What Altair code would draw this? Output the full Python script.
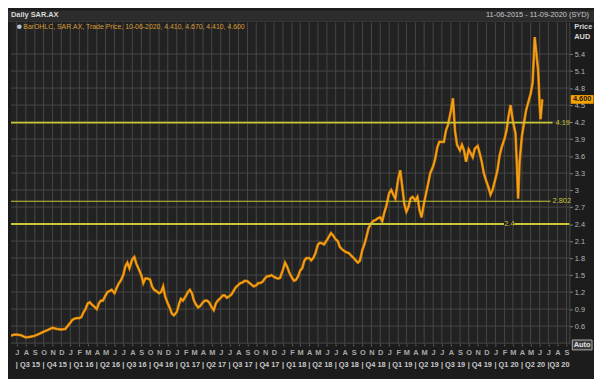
import altair as alt
import pandas as pd

# ---- data (approximate closes) ----
dates_2015 = ["2015-06-11", "2015-06-22", "2015-07-01", "2015-07-15", "2015-08-01",
              "2015-08-15", "2015-09-01", "2015-09-15", "2015-10-01", "2015-10-15",
              "2015-11-01", "2015-11-15", "2015-12-01", "2015-12-15"]
close_2015 = [0.43, 0.45, 0.45, 0.44, 0.40, 0.41, 0.43, 0.46, 0.50, 0.53, 0.57, 0.55,
              0.54, 0.55]

# 2016-2019: readings on the 1st, 8th, 15th and 22nd of each month
sample_days = [1, 8, 15, 22]
close_2016 = [0.66, 0.71, 0.73, 0.74, 0.74, 0.76, 0.84, 0.90, 1.00, 1.02, 0.98, 0.95,
              0.90, 1.00, 1.05, 1.05, 1.14, 1.20, 1.22, 1.24, 1.18, 1.27, 1.35, 1.40,
              1.50, 1.65, 1.72, 1.62, 1.78, 1.82, 1.70, 1.62, 1.50, 1.36, 1.44, 1.44,
              1.42, 1.30, 1.24, 1.22, 1.18, 1.20, 1.30, 1.12, 1.00, 0.92, 0.82, 0.79]
close_2017 = [0.85, 0.98, 1.08, 1.05, 1.13, 1.20, 1.24, 1.18, 1.05, 0.98, 0.93, 0.95,
              1.02, 1.05, 1.05, 1.02, 0.93, 0.88, 1.00, 1.05, 1.10, 1.14, 1.14, 1.10,
              1.13, 1.16, 1.22, 1.28, 1.33, 1.36, 1.37, 1.40, 1.39, 1.36, 1.33, 1.30,
              1.32, 1.36, 1.36, 1.38, 1.45, 1.48, 1.48, 1.50, 1.47, 1.45, 1.44, 1.45]
close_2018 = [1.60, 1.72, 1.65, 1.55, 1.45, 1.40, 1.42, 1.48, 1.58, 1.62, 1.75, 1.80,
              1.80, 1.76, 1.80, 1.88, 2.04, 2.07, 2.06, 2.04, 2.12, 2.18, 2.24, 2.20,
              2.13, 2.10, 2.00, 1.96, 1.92, 1.90, 1.89, 1.85, 1.80, 1.76, 1.72, 1.75,
              1.95, 2.05, 2.18, 2.33, 2.42, 2.46, 2.47, 2.50, 2.52, 2.45, 2.60, 2.72]
close_2019 = [2.95, 3.00, 2.92, 2.85, 3.20, 3.35, 3.05, 2.75, 2.62, 2.70, 2.85, 2.88,
              2.82, 2.88, 2.65, 2.52, 2.78, 2.95, 3.12, 3.30, 3.42, 3.55, 3.75, 3.85,
              3.85, 3.85, 4.05, 4.15, 4.40, 4.62, 4.05, 3.80, 3.70, 3.80, 3.70, 3.50,
              3.72, 3.65, 3.58, 3.73, 3.78, 3.65, 3.50, 3.30, 3.15, 3.05, 2.92, 3.00]

dates_2020 = ["2020-01-01", "2020-01-08", "2020-01-15", "2020-01-22", "2020-02-01",
              "2020-02-08", "2020-02-15", "2020-02-22", "2020-03-01", "2020-03-10",
              "2020-03-15", "2020-03-19", "2020-03-24", "2020-04-01", "2020-04-15",
              "2020-05-01", "2020-05-08", "2020-05-15", "2020-05-20", "2020-05-27",
              "2020-06-01", "2020-06-04", "2020-06-10"]
close_2020 = [3.20, 3.35, 3.60, 3.75, 3.90, 4.05, 4.30, 4.50, 4.22, 4.00, 3.40, 2.85,
              3.50, 3.95, 4.40, 4.70, 4.90, 5.70, 5.45, 5.10, 4.50, 4.25, 4.60]

level_values = [4.19, 2.802, 2.4]
level_texts = ["4.19", "2.802", "2.4"]

y_ticks = [0.6, 0.9, 1.2, 1.5, 1.8, 2.1, 2.4, 2.7, 3.0, 3.3, 3.6, 3.9,
           4.2, 4.5, 4.8, 5.1, 5.4]
y_grid = [0.3] + y_ticks

quarter_starts = [
    "2015-07-01", "2015-10-01", "2016-01-01", "2016-04-01", "2016-07-01",
    "2016-10-01", "2017-01-01", "2017-04-01", "2017-07-01", "2017-10-01",
    "2018-01-01", "2018-04-01", "2018-07-01", "2018-10-01", "2019-01-01",
    "2019-04-01", "2019-07-01", "2019-10-01", "2020-01-01", "2020-04-01",
    "2020-07-01",
]
quarter_texts = [
    "| Q3 15", "| Q4 15", "| Q1 16", "| Q2 16", "| Q3 16", "| Q4 16", "| Q1 17",
    "| Q2 17", "| Q3 17", "| Q4 17", "| Q1 18", "| Q2 18", "| Q3 18", "| Q4 18",
    "| Q1 19", "| Q2 19", "| Q3 19", "| Q4 19", "| Q1 20", "| Q2 20", "|Q3 20",
]

title_left = "Daily SAR.AX"
title_right = "11-06-2015 - 11-09-2020 (SYD)"
legend_text = "BarOHLC, SAR.AX, Trade Price, 10-06-2020, 4.410, 4.670, 4.410, 4.600"
last_text = "4.600"

# ---- assemble tables ----
dates = list(dates_2015)
close = list(close_2015)
for yr, vals in [(2016, close_2016), (2017, close_2017), (2018, close_2018),
                 (2019, close_2019)]:
    dates += [f"{yr}-{m:02d}-{d:02d}" for m in range(1, 13) for d in sample_days]
    close += vals
dates += dates_2020
close += close_2020

month_starts = [d.strftime("%Y-%m-%d")
                for d in pd.date_range("2015-07-01", "2020-09-01", freq="MS")]

# ---- styling ----
PW, PH = 566, 326
FONT = "Liberation Sans"
ORANGE = "#f5a01a"
YEL = "#c9c637"
GRID = "#474747"

price_df = pd.DataFrame({"date": dates, "close": close})
quarter_df = pd.DataFrame({"date": quarter_starts, "label": quarter_texts})
vgrid_df = pd.DataFrame({"date": month_starts})
hgrid_df = pd.DataFrame({"close": y_grid})
one = pd.DataFrame({"k": [0]})

x_scale = alt.Scale(domain=[alt.DateTime(year=2015, month=6, date=11),
                            alt.DateTime(year=2020, month=9, date=11)])
y_scale = alt.Scale(domain=[0.285, 5.96], nice=False, zero=False)

x_axis = alt.Axis(
    title=None, orient="bottom",
    tickCount={"interval": "month", "step": 1},
    labelExpr="substring(timeFormat(datum.value, '%b'), 0, 1)",
    labelFont=FONT, labelFontSize=7.5, labelFontWeight="bold", labelColor="#a9a9a9",
    labelPadding=3, labelOverlap=False, labelFlush=False, labelBound=False,
    tickSize=2, tickColor="#666666", domain=False, grid=False,
)
y_axis = alt.Axis(
    title=None, orient="right", values=y_ticks, format="~g",
    labelFont=FONT, labelFontSize=7.5, labelColor="#b4b4b4", labelPadding=2,
    tickSize=3, tickColor="#8a8a8a", domain=True, domainColor="#4a4a4a", grid=False,
)


def Y(field):
    return alt.Y(field, scale=y_scale, axis=y_axis, title=None)


def X(field):
    return alt.X(field, scale=x_scale, axis=x_axis, title=None)


# grid drawn as rules from the tick lists
vgrid = alt.Chart(vgrid_df).mark_rule(color=GRID, strokeWidth=1, opacity=1).encode(
    x=X("date:T"))
hgrid = alt.Chart(hgrid_df).mark_rule(color=GRID, strokeWidth=1, opacity=1).encode(
    y=Y("close:Q"))

price_shadow = alt.Chart(price_df).mark_line(
    color="#b86e00", strokeWidth=2.8, clip=True, strokeJoin="miter"
).encode(x=X("date:T"), y=Y("close:Q"))
price = alt.Chart(price_df).mark_line(
    color=ORANGE, strokeWidth=1.6, clip=True
).encode(x=X("date:T"), y=Y("close:Q"))

# horizontal levels
lev_df = pd.DataFrame({"close": level_values, "t": level_texts,
                       "px": [552, 549, 500]})
rule_ends = [549, 547, PW]
rule_widths = [1.6, 1.1, 2.0]
level_layers = []
for i in range(3):
    level_layers.append(
        alt.Chart(lev_df.iloc[[i]]).mark_rule(color=YEL, strokeWidth=rule_widths[i]).encode(
            y=Y("close:Q"), x=alt.value(0), x2=alt.value(rule_ends[i])
        )
    )

level_bg = alt.Chart(lev_df.iloc[[2]]).mark_point(
    shape="M-1.5,-0.7L1.5,-0.7L1.5,0.7L-1.5,0.7Z", size=49, filled=True,
    color="#222222", opacity=1,
).encode(y=Y("close:Q"), x=alt.value(505))
level_txt = alt.Chart(lev_df).mark_text(
    align="left", baseline="middle", font=FONT, fontSize=7.5, color=YEL
).encode(
    y=Y("close:Q"),
    x=alt.X("px:Q", scale=None, axis=None),
    text="t:N",
)

# quarter labels
quarters = alt.Chart(quarter_df).mark_text(
    align="left", baseline="middle", font=FONT, fontSize=7.5, fontWeight="bold",
    color="#c8c8c8", dx=-1,
).encode(
    x=X("date:T"),
    y=alt.value(PH + 21),
    text="label:N",
)

# header bar
header_bg = alt.Chart(one).mark_rect(color="#2d2d2d").encode(
    x=alt.value(-3), x2=alt.value(PW + 25), y=alt.value(-12), y2=alt.value(-1.5)
)
header_line = alt.Chart(one).mark_rule(color="#3c3c3c", strokeWidth=1).encode(
    x=alt.value(-3), x2=alt.value(PW + 25), y=alt.value(-1)
)
header_left = alt.Chart(one).mark_text(
    align="left", baseline="middle", font=FONT, fontSize=7.5, fontWeight="bold",
    color="#d8d8d8", text=title_left,
).encode(x=alt.value(0), y=alt.value(-7))
header_right = alt.Chart(one).mark_text(
    align="right", baseline="middle", font=FONT, fontSize=7.5, color="#c8c8c8",
    text=title_right,
).encode(x=alt.value(PW + 20), y=alt.value(-7))

# legend line in plot
icon = alt.Chart(one).mark_point(
    shape="circle", filled=True, size=22, color="#b8c4d8", opacity=1
).encode(x=alt.value(8.5), y=alt.value(4.5))
legend = alt.Chart(one).mark_text(
    align="left", baseline="middle", font=FONT, fontSize=7, color="#d99a35",
    text=legend_text,
).encode(x=alt.value(12.5), y=alt.value(4.5))

# axis header
price_hdr = alt.Chart(one).mark_text(
    align="left", baseline="middle", font=FONT, fontSize=7.5, fontWeight="bold",
    color="#d8d8d8", text="Price",
).encode(x=alt.value(571), y=alt.value(4.5))
aud_hdr = alt.Chart(one).mark_text(
    align="left", baseline="middle", font=FONT, fontSize=7.5, fontWeight="bold",
    color="#d8d8d8", text="AUD",
).encode(x=alt.value(571), y=alt.value(14.5))

# last price tag
last_df = pd.DataFrame({"close": [close[-1]], "t": [last_text]})
tag = alt.Chart(last_df).mark_point(
    shape="M-2.1,-0.8L2.1,-0.8L2.1,0.8L-2.1,0.8Z", size=121, filled=True,
    color="#f7a300", opacity=1,
).encode(x=alt.value(579), y=Y("close:Q"))
tag_txt = alt.Chart(last_df).mark_text(
    align="center", baseline="middle", font=FONT, fontSize=7.5, fontWeight="bold",
    color="#1a1a1a",
).encode(x=alt.value(579), y=Y("close:Q"), text="t:N")

# Auto button
auto_bg = alt.Chart(one).mark_rect(color="#3a3a3a", stroke="#b0b0b0", strokeWidth=1).encode(
    x=alt.value(569), x2=alt.value(589), y=alt.value(322), y2=alt.value(332)
)
auto_txt = alt.Chart(one).mark_text(
    align="center", baseline="middle", font=FONT, fontSize=7.5, fontWeight="bold",
    color="#e0e0e0", text="Auto",
).encode(x=alt.value(579), y=alt.value(327))

chart = alt.layer(
    vgrid, hgrid, price_shadow, price, *level_layers, level_bg, level_txt, quarters,
    header_bg, header_line, header_left, header_right,
    icon, legend, price_hdr, aud_hdr, tag, tag_txt, auto_bg, auto_txt,
).properties(
    width=PW, height=PH,
    autosize=alt.AutoSizeParams(type="none"),
    padding={"left": 3, "top": 12, "right": 25, "bottom": 33},
    background="#1c1c1c",
).configure_view(fill="#222222", stroke=None)

chart.save("out.html", embed_options={"renderer": "svg", "actions": False})
